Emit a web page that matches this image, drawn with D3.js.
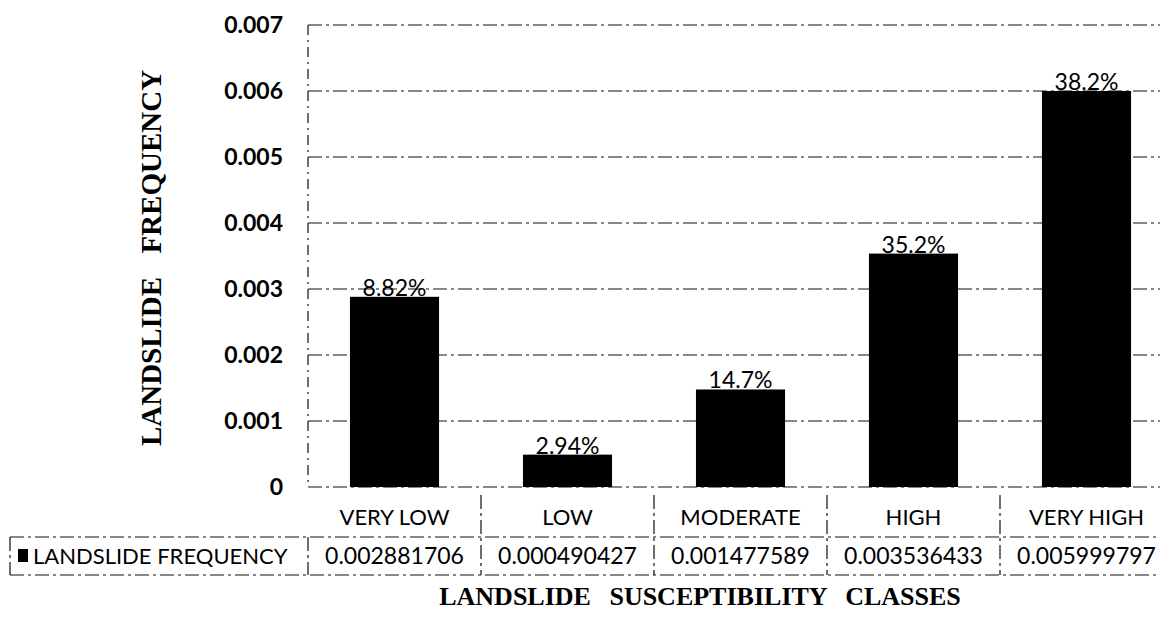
<!DOCTYPE html>
<html>
<head>
<meta charset="utf-8">
<script src="https://cdn.jsdelivr.net/npm/d3@7/dist/d3.min.js"></script>
<style>
  body { margin: 0; background: #fff; }
  svg { display: block; }
</style>
</head>
<body>
<svg id="chart" width="1160" height="617"></svg>
<script>
// data
const categories = ['VERY LOW', 'LOW', 'MODERATE', 'HIGH', 'VERY HIGH']
const frequency = [0.002881706, 0.000490427, 0.001477589, 0.003536433, 0.005999797]
const frequencyText = ['0.002881706', '0.000490427', '0.001477589', '0.003536433', '0.005999797']
const percentLabels = ['8.82%', '2.94%', '14.7%', '35.2%', '38.2%']
const yTicks = [0, 0.001, 0.002, 0.003, 0.004, 0.005, 0.006, 0.007]
const yTickLabels = ['0', '0.001', '0.002', '0.003', '0.004', '0.005', '0.006', '0.007']
const seriesName = 'LANDSLIDE FREQUENCY'

const sans = 'Lato, "Open Sans", sans-serif'
const serif = '"Liberation Serif", "Times New Roman", serif'
const dash = '14,4,3,4'

const plot = { left: 308, right: 1173, top: 25, bottom: 487 }
const table = { left: 10, top: 537, bottom: 575 }

const svg = d3.select('#chart')

const x = d3.scaleBand()
    .domain(categories)
    .range([plot.left, plot.right])
    .paddingInner(0.485)
    .paddingOuter(0.2425)

const y = d3.scaleLinear()
    .domain([0, 0.007])
    .range([plot.bottom, plot.top])

//gridlines
svg.append('g')
    .selectAll('line')
    .data(yTicks)
    .join('line')
        .attr('x1', plot.left)
        .attr('x2', plot.right)
        .attr('y1', d => y(d))
        .attr('y2', d => y(d))
        .attr('stroke', '#111')
        .attr('stroke-width', 1.2)
        .attr('stroke-dasharray', dash)

//left border of plot area
svg.append('line')
    .attr('x1', plot.left).attr('x2', plot.left)
    .attr('y1', plot.top).attr('y2', plot.bottom)
    .attr('stroke', '#111')
    .attr('stroke-width', 1.2)
    .attr('stroke-dasharray', '10,5,2,5')

//y axis labels
const yAxis = d3.axisLeft(y)
    .tickValues(yTicks)
    .tickFormat((d, i) => yTickLabels[i])
    .tickSize(0)
    .tickPadding(25)

const yAxisGroup = svg.append('g')
    .attr('transform', `translate(${plot.left}, 0)`)
    .call(yAxis)
yAxisGroup.select('.domain').remove()
yAxisGroup.selectAll('text')
    .attr('font-family', sans)
    .attr('font-size', '23px')
    .attr('font-weight', 'bold')
    .attr('fill', '#000')

//bars
svg.append('g')
    .selectAll('rect')
    .data(frequency)
    .join('rect')
        .attr('x', (d, i) => x(categories[i]))
        .attr('y', d => y(d))
        .attr('width', x.bandwidth())
        .attr('height', d => y(0) - y(d))
        .attr('fill', '#000')

//percent labels on bars
svg.append('g')
    .selectAll('text')
    .data(frequency)
    .join('text')
        .attr('x', (d, i) => x(categories[i]) + x.bandwidth() / 2)
        .attr('y', d => y(d) - 1)
        .attr('text-anchor', 'middle')
        .attr('font-family', sans)
        .attr('font-size', '23px')
        .text((d, i) => percentLabels[i])

//category labels
const xAxis = d3.axisBottom(x).tickSize(0).tickPadding(22)
const xAxisGroup = svg.append('g')
    .attr('transform', `translate(0, ${plot.bottom})`)
    .call(xAxis)
xAxisGroup.select('.domain').remove()
xAxisGroup.selectAll('text')
    .attr('font-family', sans)
    .attr('font-size', '22px')
    .attr('fill', '#000')

//data table lines
const tableLines = svg.append('g')
    .attr('stroke', '#111')
    .attr('stroke-width', 1.2)
    .attr('stroke-dasharray', dash)

tableLines.append('line')
    .attr('x1', table.left).attr('x2', plot.right)
    .attr('y1', table.top).attr('y2', table.top)
tableLines.append('line')
    .attr('x1', table.left).attr('x2', plot.right)
    .attr('y1', table.bottom).attr('y2', table.bottom)
tableLines.append('line')
    .attr('x1', table.left).attr('x2', table.left)
    .attr('y1', table.top).attr('y2', table.bottom)

const boundaries = categories.map(c => x(c) - x.step() * x.paddingInner() / 2)
tableLines.selectAll('.sep')
    .data(boundaries)
    .join('line')
        .attr('class', 'sep')
        .attr('x1', d => d).attr('x2', d => d)
        .attr('y1', (d, i) => i === 0 ? table.top : plot.bottom + 8)
        .attr('y2', table.bottom)

//legend key
svg.append('rect')
    .attr('x', 18)
    .attr('y', 549)
    .attr('width', 10)
    .attr('height', 13)
    .attr('fill', '#000')

svg.append('text')
    .attr('x', 33)
    .attr('y', 564)
    .attr('font-family', sans)
    .attr('font-size', '22px')
    .text(seriesName)

//table values
svg.append('g')
    .selectAll('text')
    .data(frequencyText)
    .join('text')
        .attr('x', (d, i) => x(categories[i]) + x.bandwidth() / 2)
        .attr('y', 564)
        .attr('text-anchor', 'middle')
        .attr('font-family', sans)
        .attr('font-size', '23px')
        .text(d => d)

//axis titles
svg.append('text')
    .attr('x', 700)
    .attr('y', 605)
    .attr('text-anchor', 'middle')
    .attr('font-family', serif)
    .attr('font-size', '26px')
    .attr('font-weight', 'bold')
    .attr('word-spacing', '12px')
    .text('LANDSLIDE SUSCEPTIBILITY CLASSES')

svg.append('text')
    .attr('transform', 'translate(161, 258) rotate(-90)')
    .attr('text-anchor', 'middle')
    .attr('font-family', serif)
    .attr('font-size', '29px')
    .attr('font-weight', 'bold')
    .attr('word-spacing', '16px')
    .text('LANDSLIDE FREQUENCY')
</script>
</body>
</html>
